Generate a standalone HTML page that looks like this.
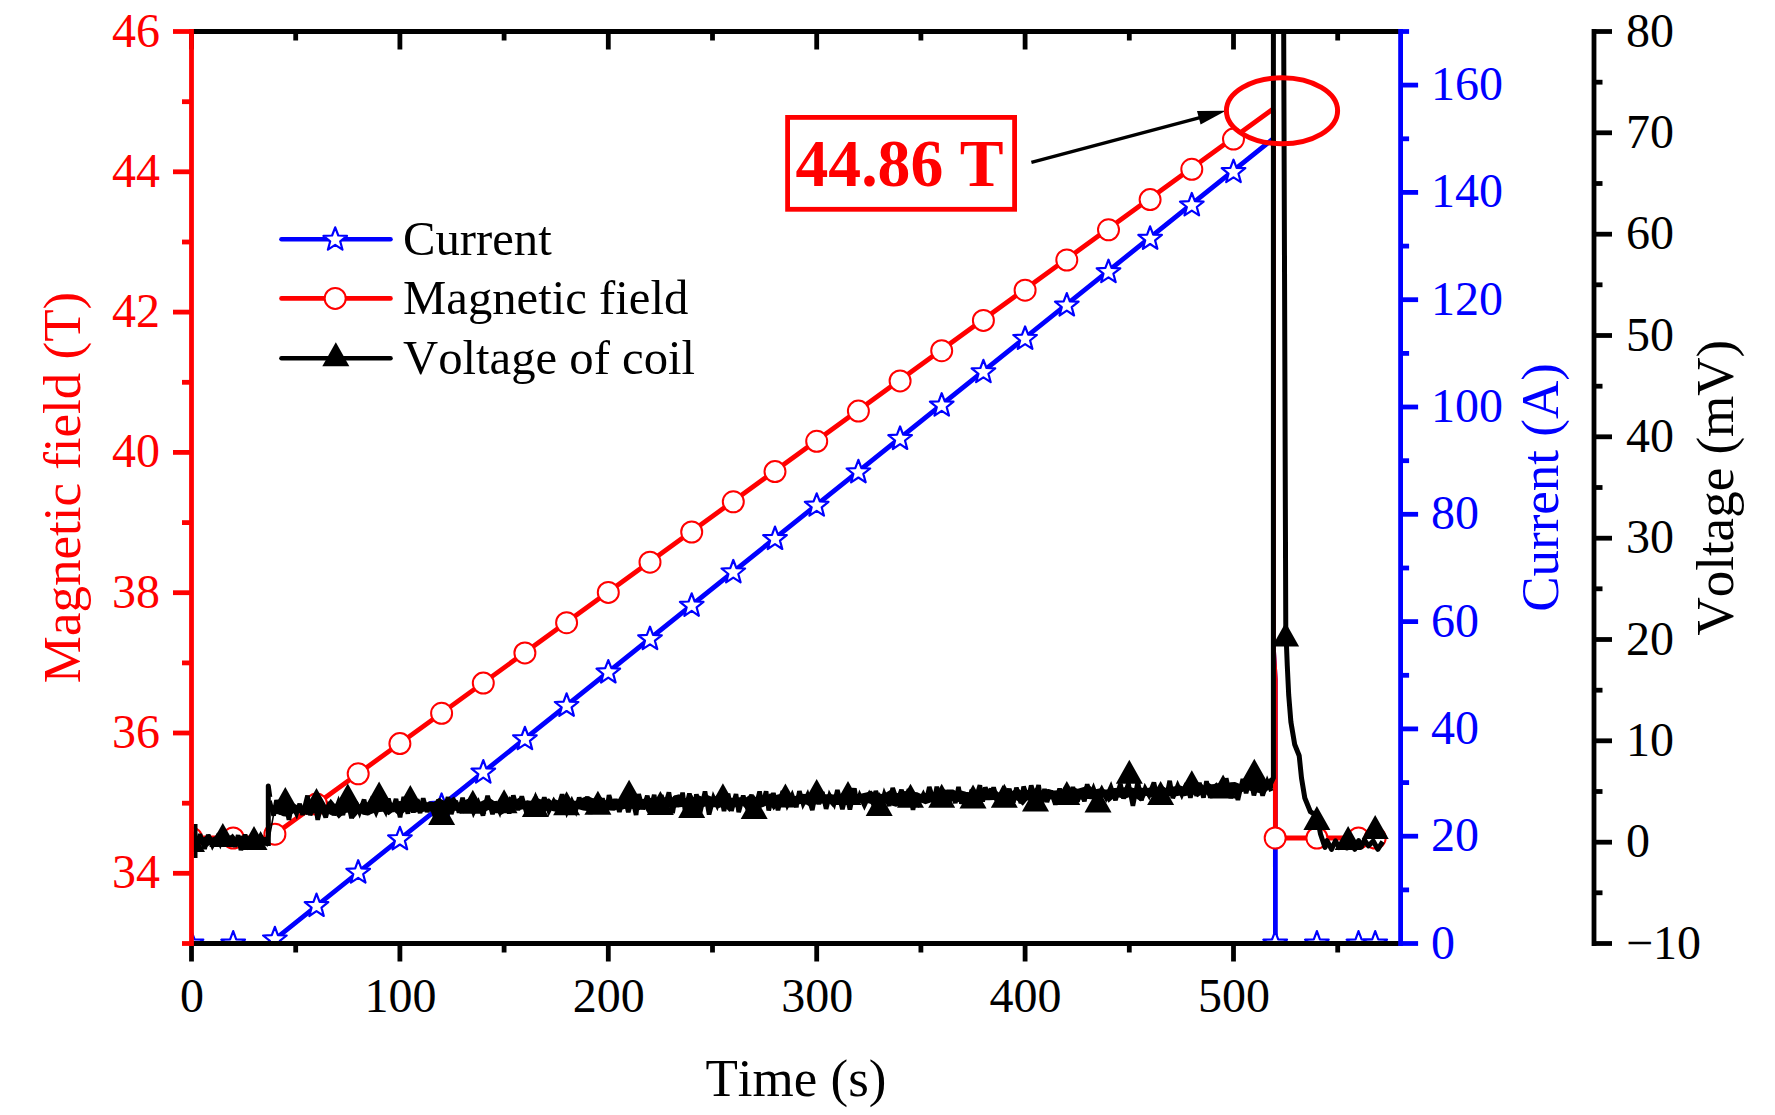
<!DOCTYPE html><html><head><meta charset="utf-8"><style>html,body{margin:0;padding:0;background:#fff;width:1775px;height:1115px;overflow:hidden} text{font-kerning:none}</style></head><body><svg width="1775" height="1115" viewBox="0 0 1775 1115" style="position:absolute;left:0;top:0">
<defs><clipPath id="pc"><rect x="191.5" y="31.5" width="1209.1" height="912.0"/></clipPath></defs>
<g clip-path="url(#pc)">
<polyline fill="none" stroke="#0000ff" stroke-width="4.8" stroke-linejoin="round" points="191.5,943.5 269.6,943.5 1272.0,139.7 1273.5,141.0 1273.5,650.0 1275.3,680.0 1275.4,943.5 1375.2,943.5"/>
<polyline fill="none" stroke="#ff0000" stroke-width="4.8" stroke-linejoin="round" points="191.5,838.0 269.6,838.0 1272.0,109.8 1273.5,111.0 1273.5,650.0 1275.3,680.0 1275.4,838.0 1375.2,838.0"/>
<polygon points="191.5,931.1 194.6,939.3 203.3,939.7 196.5,945.1 198.8,953.5 191.5,948.7 184.2,953.5 186.5,945.1 179.7,939.7 188.4,939.3" fill="#fff" stroke="#0000ff" stroke-width="2.2" stroke-linejoin="round"/>
<polygon points="233.2,931.1 236.2,939.3 245.0,939.7 238.1,945.1 240.5,953.5 233.2,948.7 225.9,953.5 228.2,945.1 221.4,939.7 230.1,939.3" fill="#fff" stroke="#0000ff" stroke-width="2.2" stroke-linejoin="round"/>
<polygon points="274.9,926.9 277.9,935.1 286.7,935.5 279.8,940.9 282.1,949.4 274.9,944.5 267.6,949.4 269.9,940.9 263.1,935.5 271.8,935.1" fill="#fff" stroke="#0000ff" stroke-width="2.2" stroke-linejoin="round"/>
<polygon points="316.5,893.6 319.6,901.8 328.3,902.1 321.5,907.6 323.8,916.0 316.5,911.2 309.3,916.0 311.6,907.6 304.7,902.1 313.5,901.8" fill="#fff" stroke="#0000ff" stroke-width="2.2" stroke-linejoin="round"/>
<polygon points="358.2,860.2 361.3,868.4 370.0,868.8 363.2,874.2 365.5,882.6 358.2,877.8 350.9,882.6 353.3,874.2 346.4,868.8 355.2,868.4" fill="#fff" stroke="#0000ff" stroke-width="2.2" stroke-linejoin="round"/>
<polygon points="399.9,826.9 403.0,835.0 411.7,835.4 404.9,840.9 407.2,849.3 399.9,844.5 392.6,849.3 394.9,840.9 388.1,835.4 396.8,835.0" fill="#fff" stroke="#0000ff" stroke-width="2.2" stroke-linejoin="round"/>
<polygon points="441.6,793.5 444.6,801.7 453.4,802.1 446.5,807.5 448.9,815.9 441.6,811.1 434.3,815.9 436.6,807.5 429.8,802.1 438.5,801.7" fill="#fff" stroke="#0000ff" stroke-width="2.2" stroke-linejoin="round"/>
<polygon points="483.3,760.1 486.3,768.3 495.1,768.7 488.2,774.1 490.5,782.6 483.3,777.7 476.0,782.6 478.3,774.1 471.5,768.7 480.2,768.3" fill="#fff" stroke="#0000ff" stroke-width="2.2" stroke-linejoin="round"/>
<polygon points="524.9,726.8 528.0,735.0 536.7,735.3 529.9,740.8 532.2,749.2 524.9,744.4 517.7,749.2 520.0,740.8 513.1,735.3 521.9,735.0" fill="#fff" stroke="#0000ff" stroke-width="2.2" stroke-linejoin="round"/>
<polygon points="566.6,693.4 569.7,701.6 578.4,702.0 571.6,707.4 573.9,715.8 566.6,711.0 559.3,715.8 561.7,707.4 554.8,702.0 563.6,701.6" fill="#fff" stroke="#0000ff" stroke-width="2.2" stroke-linejoin="round"/>
<polygon points="608.3,660.1 611.4,668.2 620.1,668.6 613.3,674.1 615.6,682.5 608.3,677.7 601.0,682.5 603.3,674.1 596.5,668.6 605.2,668.2" fill="#fff" stroke="#0000ff" stroke-width="2.2" stroke-linejoin="round"/>
<polygon points="650.0,626.7 653.0,634.9 661.8,635.3 654.9,640.7 657.3,649.1 650.0,644.3 642.7,649.1 645.0,640.7 638.2,635.3 646.9,634.9" fill="#fff" stroke="#0000ff" stroke-width="2.2" stroke-linejoin="round"/>
<polygon points="691.7,593.3 694.7,601.5 703.5,601.9 696.6,607.3 698.9,615.8 691.7,610.9 684.4,615.8 686.7,607.3 679.9,601.9 688.6,601.5" fill="#fff" stroke="#0000ff" stroke-width="2.2" stroke-linejoin="round"/>
<polygon points="733.3,560.0 736.4,568.2 745.1,568.5 738.3,574.0 740.6,582.4 733.3,577.6 726.1,582.4 728.4,574.0 721.5,568.5 730.3,568.2" fill="#fff" stroke="#0000ff" stroke-width="2.2" stroke-linejoin="round"/>
<polygon points="775.0,526.6 778.1,534.8 786.8,535.2 780.0,540.6 782.3,549.0 775.0,544.2 767.7,549.0 770.1,540.6 763.2,535.2 772.0,534.8" fill="#fff" stroke="#0000ff" stroke-width="2.2" stroke-linejoin="round"/>
<polygon points="816.7,493.3 819.8,501.4 828.5,501.8 821.7,507.3 824.0,515.7 816.7,510.9 809.4,515.7 811.7,507.3 804.9,501.8 813.6,501.4" fill="#fff" stroke="#0000ff" stroke-width="2.2" stroke-linejoin="round"/>
<polygon points="858.4,459.9 861.4,468.1 870.2,468.5 863.3,473.9 865.7,482.3 858.4,477.5 851.1,482.3 853.4,473.9 846.6,468.5 855.3,468.1" fill="#fff" stroke="#0000ff" stroke-width="2.2" stroke-linejoin="round"/>
<polygon points="900.1,426.5 903.1,434.7 911.9,435.1 905.0,440.5 907.3,449.0 900.1,444.1 892.8,449.0 895.1,440.5 888.3,435.1 897.0,434.7" fill="#fff" stroke="#0000ff" stroke-width="2.2" stroke-linejoin="round"/>
<polygon points="941.7,393.2 944.8,401.4 953.5,401.7 946.7,407.2 949.0,415.6 941.7,410.8 934.5,415.6 936.8,407.2 929.9,401.7 938.7,401.4" fill="#fff" stroke="#0000ff" stroke-width="2.2" stroke-linejoin="round"/>
<polygon points="983.4,359.8 986.5,368.0 995.2,368.4 988.4,373.8 990.7,382.2 983.4,377.4 976.1,382.2 978.5,373.8 971.6,368.4 980.4,368.0" fill="#fff" stroke="#0000ff" stroke-width="2.2" stroke-linejoin="round"/>
<polygon points="1025.1,326.5 1028.2,334.6 1036.9,335.0 1030.1,340.5 1032.4,348.9 1025.1,344.1 1017.8,348.9 1020.1,340.5 1013.3,335.0 1022.0,334.6" fill="#fff" stroke="#0000ff" stroke-width="2.2" stroke-linejoin="round"/>
<polygon points="1066.8,293.1 1069.8,301.3 1078.6,301.7 1071.7,307.1 1074.1,315.5 1066.8,310.7 1059.5,315.5 1061.8,307.1 1055.0,301.7 1063.7,301.3" fill="#fff" stroke="#0000ff" stroke-width="2.2" stroke-linejoin="round"/>
<polygon points="1108.5,259.7 1111.5,267.9 1120.3,268.3 1113.4,273.7 1115.7,282.2 1108.5,277.3 1101.2,282.2 1103.5,273.7 1096.7,268.3 1105.4,267.9" fill="#fff" stroke="#0000ff" stroke-width="2.2" stroke-linejoin="round"/>
<polygon points="1150.1,226.4 1153.2,234.6 1161.9,234.9 1155.1,240.4 1157.4,248.8 1150.1,244.0 1142.9,248.8 1145.2,240.4 1138.3,234.9 1147.1,234.6" fill="#fff" stroke="#0000ff" stroke-width="2.2" stroke-linejoin="round"/>
<polygon points="1191.8,193.0 1194.9,201.2 1203.6,201.6 1196.8,207.0 1199.1,215.4 1191.8,210.6 1184.5,215.4 1186.9,207.0 1180.0,201.6 1188.8,201.2" fill="#fff" stroke="#0000ff" stroke-width="2.2" stroke-linejoin="round"/>
<polygon points="1233.5,159.7 1236.6,167.8 1245.3,168.2 1238.5,173.7 1240.8,182.1 1233.5,177.3 1226.2,182.1 1228.5,173.7 1221.7,168.2 1230.4,167.8" fill="#fff" stroke="#0000ff" stroke-width="2.2" stroke-linejoin="round"/>
<polygon points="1275.2,931.1 1278.2,939.3 1287.0,939.7 1280.1,945.1 1282.5,953.5 1275.2,948.7 1267.9,953.5 1270.2,945.1 1263.4,939.7 1272.1,939.3" fill="#fff" stroke="#0000ff" stroke-width="2.2" stroke-linejoin="round"/>
<polygon points="1316.9,931.1 1319.9,939.3 1328.7,939.7 1321.8,945.1 1324.1,953.5 1316.9,948.7 1309.6,953.5 1311.9,945.1 1305.1,939.7 1313.8,939.3" fill="#fff" stroke="#0000ff" stroke-width="2.2" stroke-linejoin="round"/>
<polygon points="1358.5,931.1 1361.6,939.3 1370.3,939.7 1363.5,945.1 1365.8,953.5 1358.5,948.7 1351.3,953.5 1353.6,945.1 1346.7,939.7 1355.5,939.3" fill="#fff" stroke="#0000ff" stroke-width="2.2" stroke-linejoin="round"/>
<polygon points="1375.2,931.1 1378.3,939.3 1387.0,939.7 1380.2,945.1 1382.5,953.5 1375.2,948.7 1367.9,953.5 1370.3,945.1 1363.4,939.7 1372.2,939.3" fill="#fff" stroke="#0000ff" stroke-width="2.2" stroke-linejoin="round"/>
<circle cx="191.5" cy="838.0" r="10.5" fill="#fff" stroke="#ff0000" stroke-width="2.0"/>
<circle cx="233.2" cy="838.0" r="10.5" fill="#fff" stroke="#ff0000" stroke-width="2.0"/>
<circle cx="274.9" cy="834.2" r="10.5" fill="#fff" stroke="#ff0000" stroke-width="2.0"/>
<circle cx="316.5" cy="804.0" r="10.5" fill="#fff" stroke="#ff0000" stroke-width="2.0"/>
<circle cx="358.2" cy="773.8" r="10.5" fill="#fff" stroke="#ff0000" stroke-width="2.0"/>
<circle cx="399.9" cy="743.6" r="10.5" fill="#fff" stroke="#ff0000" stroke-width="2.0"/>
<circle cx="441.6" cy="713.3" r="10.5" fill="#fff" stroke="#ff0000" stroke-width="2.0"/>
<circle cx="483.3" cy="683.1" r="10.5" fill="#fff" stroke="#ff0000" stroke-width="2.0"/>
<circle cx="524.9" cy="652.9" r="10.5" fill="#fff" stroke="#ff0000" stroke-width="2.0"/>
<circle cx="566.6" cy="622.7" r="10.5" fill="#fff" stroke="#ff0000" stroke-width="2.0"/>
<circle cx="608.3" cy="592.4" r="10.5" fill="#fff" stroke="#ff0000" stroke-width="2.0"/>
<circle cx="650.0" cy="562.2" r="10.5" fill="#fff" stroke="#ff0000" stroke-width="2.0"/>
<circle cx="691.7" cy="532.0" r="10.5" fill="#fff" stroke="#ff0000" stroke-width="2.0"/>
<circle cx="733.3" cy="501.8" r="10.5" fill="#fff" stroke="#ff0000" stroke-width="2.0"/>
<circle cx="775.0" cy="471.6" r="10.5" fill="#fff" stroke="#ff0000" stroke-width="2.0"/>
<circle cx="816.7" cy="441.3" r="10.5" fill="#fff" stroke="#ff0000" stroke-width="2.0"/>
<circle cx="858.4" cy="411.1" r="10.5" fill="#fff" stroke="#ff0000" stroke-width="2.0"/>
<circle cx="900.1" cy="380.9" r="10.5" fill="#fff" stroke="#ff0000" stroke-width="2.0"/>
<circle cx="941.7" cy="350.7" r="10.5" fill="#fff" stroke="#ff0000" stroke-width="2.0"/>
<circle cx="983.4" cy="320.4" r="10.5" fill="#fff" stroke="#ff0000" stroke-width="2.0"/>
<circle cx="1025.1" cy="290.2" r="10.5" fill="#fff" stroke="#ff0000" stroke-width="2.0"/>
<circle cx="1066.8" cy="260.0" r="10.5" fill="#fff" stroke="#ff0000" stroke-width="2.0"/>
<circle cx="1108.5" cy="229.8" r="10.5" fill="#fff" stroke="#ff0000" stroke-width="2.0"/>
<circle cx="1150.1" cy="199.6" r="10.5" fill="#fff" stroke="#ff0000" stroke-width="2.0"/>
<circle cx="1191.8" cy="169.3" r="10.5" fill="#fff" stroke="#ff0000" stroke-width="2.0"/>
<circle cx="1233.5" cy="139.1" r="10.5" fill="#fff" stroke="#ff0000" stroke-width="2.0"/>
<circle cx="1275.2" cy="838.0" r="10.5" fill="#fff" stroke="#ff0000" stroke-width="2.0"/>
<circle cx="1316.9" cy="838.0" r="10.5" fill="#fff" stroke="#ff0000" stroke-width="2.0"/>
<circle cx="1358.5" cy="838.0" r="10.5" fill="#fff" stroke="#ff0000" stroke-width="2.0"/>
<circle cx="1375.2" cy="838.0" r="10.5" fill="#fff" stroke="#ff0000" stroke-width="2.0"/>
<polygon fill="#000" points="192.5,837.7 197.1,837.9 201.4,837.8 204.8,836.7 209.0,833.9 212.4,837.4 217.1,835.3 220.3,836.6 225.1,837.4 228.8,836.9 232.7,833.6 236.1,837.9 240.9,835.4 245.6,836.3 250.6,836.6 256.1,837.2 260.4,837.8 263.8,837.2 268.0,836.2 268.0,846.7 263.8,845.2 260.4,844.5 256.1,845.0 250.6,847.0 245.6,848.4 240.9,846.2 236.1,846.5 232.7,844.5 228.8,846.5 225.1,846.4 220.3,843.6 217.1,843.1 212.4,845.4 209.0,845.6 204.8,848.7 201.4,844.7 197.1,843.1 192.5,845.1"/><polygon fill="#000" points="268.6,836.2 274.5,806.0 278.9,805.8 283.0,804.3 287.9,804.0 293.5,803.3 298.4,805.8 302.4,805.9 306.5,804.1 310.3,805.0 316.3,804.7 320.3,803.9 326.1,805.2 330.7,798.8 334.8,803.8 338.8,803.6 344.2,801.7 348.3,805.0 353.4,799.6 359.2,804.4 362.9,801.0 367.8,802.5 373.2,801.7 377.2,800.6 383.0,802.1 388.7,802.0 393.7,803.1 399.6,801.1 405.2,801.6 408.9,803.5 414.7,802.9 418.9,798.3 422.0,803.4 425.5,802.2 430.1,802.0 433.8,802.0 439.1,798.1 443.6,800.4 449.4,799.5 454.1,796.6 458.4,802.6 463.8,800.7 467.2,799.0 471.4,800.9 475.7,802.1 480.9,801.6 484.9,799.6 490.2,798.2 495.6,802.1 501.0,802.0 506.1,802.1 509.4,796.3 514.9,800.3 519.6,797.2 523.3,801.6 527.2,800.3 530.8,801.7 536.0,801.3 539.3,798.8 543.5,800.2 549.0,798.2 552.1,801.2 555.6,799.6 559.5,800.7 563.8,799.3 567.5,796.2 571.7,800.0 574.7,800.8 577.8,800.5 583.0,797.4 587.0,796.3 590.1,796.9 595.6,799.6 601.0,797.3 606.1,800.4 609.4,797.2 614.4,800.3 618.9,798.9 622.7,799.6 627.9,794.5 632.9,796.7 636.4,798.4 639.4,799.3 644.5,798.7 647.8,797.3 650.9,798.0 654.7,797.6 658.1,797.6 662.6,796.0 667.1,799.3 671.0,798.6 674.0,795.5 679.1,794.2 685.1,798.3 688.3,797.3 692.0,797.8 697.9,795.1 703.7,797.2 708.1,795.3 713.8,797.5 719.1,793.6 723.7,797.9 729.4,797.7 733.8,797.7 737.1,797.5 742.3,797.0 746.3,797.2 750.8,794.0 754.6,796.7 760.2,797.4 764.6,797.4 770.1,793.3 773.6,795.8 778.5,794.2 783.9,795.1 787.2,795.6 790.5,795.7 795.3,796.1 800.2,793.7 806.1,793.9 811.1,795.9 814.8,795.6 818.4,792.8 824.3,794.5 829.6,794.1 833.2,794.6 837.4,793.9 840.6,794.0 846.6,790.7 851.8,794.2 855.8,795.4 861.7,793.4 867.1,792.3 871.3,790.5 874.4,793.4 877.5,793.1 883.2,794.3 886.9,792.1 892.2,788.8 895.9,792.7 899.7,793.5 905.1,790.7 909.1,793.6 912.6,791.7 917.3,792.2 921.1,793.9 925.4,793.1 930.7,790.5 934.6,793.0 938.3,793.4 942.3,791.6 947.7,789.5 953.2,789.5 956.5,791.3 960.6,790.3 966.5,791.9 970.6,792.6 975.5,792.9 979.1,792.4 982.3,792.0 985.6,791.3 989.5,787.7 993.7,788.5 998.9,792.4 1004.4,790.5 1007.4,790.9 1012.3,791.1 1016.9,787.7 1022.8,791.6 1027.2,789.9 1032.1,789.4 1036.3,787.9 1040.5,790.7 1045.7,789.3 1048.8,789.1 1053.6,790.4 1058.6,790.2 1063.1,789.5 1066.6,790.7 1069.9,789.9 1073.2,787.3 1077.7,788.8 1083.7,787.0 1088.1,783.7 1093.9,789.6 1099.6,788.5 1105.4,789.4 1108.5,789.5 1114.2,788.0 1119.1,787.7 1124.7,787.2 1130.1,787.1 1135.4,788.5 1140.9,787.4 1145.9,788.5 1150.7,787.3 1154.4,786.2 1157.7,787.6 1161.3,785.0 1165.1,787.7 1170.4,787.1 1175.1,786.2 1180.3,785.5 1184.5,787.1 1189.2,782.6 1193.7,783.2 1197.6,785.0 1200.6,783.1 1205.0,786.3 1209.0,783.0 1212.8,785.3 1216.6,782.2 1219.6,785.5 1224.8,784.0 1230.6,782.2 1235.0,781.9 1240.1,784.0 1243.4,779.8 1249.2,783.2 1254.2,779.5 1259.0,780.6 1262.2,778.0 1265.8,781.3 1270.7,777.5 1273.0,778.1 1273.0,788.4 1270.7,788.0 1265.8,792.0 1262.2,793.2 1259.0,793.1 1254.2,792.0 1249.2,790.6 1243.4,791.5 1240.1,792.9 1235.0,795.2 1230.6,796.6 1224.8,793.3 1219.6,796.9 1216.6,794.8 1212.8,796.3 1209.0,796.8 1205.0,793.6 1200.6,795.1 1197.6,797.2 1193.7,794.5 1189.2,795.2 1184.5,796.2 1180.3,795.4 1175.1,796.4 1170.4,796.0 1165.1,798.6 1161.3,796.8 1157.7,796.3 1154.4,795.9 1150.7,797.6 1145.9,795.8 1140.9,801.4 1135.4,798.0 1130.1,796.8 1124.7,799.0 1119.1,797.6 1114.2,797.7 1108.5,802.8 1105.4,797.5 1099.6,798.1 1093.9,799.6 1088.1,799.1 1083.7,799.5 1077.7,799.4 1073.2,797.9 1069.9,799.2 1066.6,798.8 1063.1,800.9 1058.6,799.4 1053.6,799.1 1048.8,799.4 1045.7,799.9 1040.5,799.0 1036.3,799.0 1032.1,801.1 1027.2,800.6 1022.8,805.8 1016.9,800.6 1012.3,799.7 1007.4,803.5 1004.4,799.6 998.9,804.7 993.7,799.9 989.5,800.3 985.6,800.2 982.3,801.0 979.1,802.9 975.5,801.2 970.6,801.2 966.5,802.5 960.6,801.8 956.5,802.2 953.2,801.0 947.7,801.4 942.3,801.1 938.3,803.8 934.6,803.2 930.7,802.5 925.4,804.3 921.1,802.5 917.3,805.1 912.6,801.3 909.1,803.5 905.1,804.6 899.7,806.1 895.9,806.7 892.2,805.7 886.9,801.8 883.2,807.7 877.5,803.5 874.4,804.1 871.3,803.9 867.1,803.1 861.7,803.0 855.8,803.1 851.8,803.3 846.6,804.5 840.6,806.2 837.4,802.9 833.2,807.4 829.6,803.4 824.3,803.6 818.4,803.7 814.8,804.7 811.1,807.2 806.1,804.5 800.2,804.1 795.3,805.7 790.5,804.3 787.2,806.1 783.9,806.6 778.5,804.2 773.6,810.4 770.1,804.5 764.6,806.2 760.2,808.3 754.6,811.1 750.8,805.2 746.3,809.2 742.3,805.6 737.1,806.8 733.8,805.7 729.4,812.1 723.7,805.7 719.1,808.0 713.8,806.1 708.1,805.7 703.7,807.1 697.9,809.6 692.0,806.6 688.3,807.8 685.1,806.5 679.1,806.9 674.0,808.0 671.0,807.9 667.1,807.2 662.6,808.2 658.1,808.1 654.7,807.7 650.9,812.0 647.8,813.5 644.5,807.7 639.4,810.2 636.4,808.0 632.9,809.1 627.9,808.0 622.7,809.5 618.9,808.7 614.4,810.8 609.4,810.6 606.1,808.1 601.0,810.9 595.6,809.3 590.1,811.2 587.0,811.0 583.0,810.6 577.8,809.0 574.7,808.1 571.7,809.0 567.5,808.1 563.8,813.8 559.5,808.6 555.6,811.7 552.1,810.9 549.0,809.1 543.5,813.6 539.3,810.3 536.0,810.5 530.8,808.8 527.2,809.8 523.3,809.3 519.6,810.0 514.9,809.7 509.4,811.3 506.1,812.1 501.0,815.0 495.6,811.2 490.2,809.6 484.9,811.6 480.9,809.7 475.7,810.4 471.4,812.2 467.2,811.8 463.8,813.3 458.4,811.4 454.1,810.4 449.4,815.0 443.6,811.3 439.1,813.4 433.8,811.6 430.1,811.7 425.5,811.3 422.0,812.3 418.9,811.8 414.7,812.7 408.9,811.2 405.2,811.6 399.6,816.4 393.7,811.3 388.7,815.3 383.0,811.7 377.2,812.3 373.2,813.2 367.8,815.5 362.9,814.8 359.2,812.3 353.4,818.9 348.3,812.6 344.2,813.2 338.8,818.8 334.8,813.9 330.7,814.9 326.1,812.5 320.3,812.6 316.3,812.8 310.3,814.4 306.5,815.1 302.4,813.1 298.4,813.3 293.5,813.3 287.9,816.7 283.0,816.3 278.9,814.2 274.5,813.9 268.6,845.8"/><polyline fill="none" stroke="#000" stroke-width="4.6" stroke-linejoin="miter" stroke-miterlimit="3" points="193.5,837.4 196.7,846.0 200.0,834.1 204.6,848.9 208.2,834.8 212.5,845.4 217.1,837.2 220.1,843.5 224.5,830.6 228.2,846.3 231.9,836.3 235.1,846.8 238.1,835.1 240.9,850.1 245.1,834.7 248.5,844.9 253.3,837.2 255.8,844.2 260.6,835.7 265.3,844.3"/><polyline fill="none" stroke="#000" stroke-width="4.6" stroke-linejoin="miter" stroke-miterlimit="3" points="269.5,800.9 273.6,815.7 276.5,800.1 280.9,814.1 285.3,802.1 288.9,819.7 291.9,804.2 296.5,813.7 299.7,803.8 302.6,815.0 307.5,795.6 310.2,815.3 314.7,800.3 317.7,819.8 321.2,805.8 325.7,817.5 329.8,802.2 333.8,815.1 338.5,802.3 342.9,815.0 347.2,798.5 351.5,818.3 355.6,801.8 359.6,812.1 364.1,799.6 367.2,814.6 371.3,801.9 376.1,812.5 380.5,801.9 385.5,811.2 388.4,798.6 392.2,811.6 396.0,799.0 400.1,817.3 403.7,797.0 407.9,813.6 410.7,796.6 413.3,812.6 415.8,801.0 420.1,813.1 423.2,798.3 427.0,811.9 430.5,802.4 434.9,816.5 438.6,799.4 443.5,812.7 448.0,797.2 451.3,814.1 455.8,800.8 459.0,812.6 462.6,797.8 465.8,811.4 469.5,799.9 473.6,812.2 478.3,802.8 483.0,815.4 487.6,795.9 492.5,814.2 495.2,801.8 499.7,811.6 504.4,796.4 509.2,813.5 513.3,795.4 517.9,810.1 521.8,796.5 526.5,812.8 529.6,801.2 532.2,812.0 535.9,798.2 540.6,808.1 544.3,797.5 548.9,810.9 553.8,801.3 557.9,808.0 562.1,794.3 567.0,811.7 571.8,801.3 575.8,810.2 579.2,797.6 583.7,809.0 587.2,796.8 590.4,813.8 594.2,799.0 599.1,812.3 602.5,798.4 606.4,812.0 609.0,795.1 612.9,807.2 615.4,799.2 619.4,811.9 624.2,795.7 628.3,812.1 632.5,798.7 636.1,815.0 638.7,794.1 642.9,809.2 647.3,795.7 650.6,809.5 654.2,794.9 656.8,812.9 661.3,795.3 664.9,806.0 668.9,792.3 672.6,813.0 675.6,796.4 679.8,806.6 682.6,792.6 685.1,811.2 689.4,793.6 693.7,812.2 696.4,794.3 700.1,812.7 705.0,791.4 709.1,814.5 713.5,797.7 717.2,805.4 721.1,795.3 724.0,811.1 728.1,793.6 731.5,810.9 736.0,794.0 738.7,812.2 743.2,795.7 748.2,810.9 751.4,794.7 754.9,809.6 759.6,791.5 762.1,806.0 766.1,791.3 768.7,810.5 773.4,793.1 778.0,810.1 782.8,791.1 787.3,805.0 792.1,795.4 796.3,806.9 799.4,791.1 803.1,803.8 807.5,795.1 812.3,810.0 815.9,792.1 818.9,804.2 822.3,792.1 826.1,808.8 829.6,795.7 834.0,803.7 837.4,790.1 842.4,809.2 846.3,794.1 849.9,809.6 854.4,788.3 857.0,803.5 859.7,795.5 864.4,805.4 869.2,795.1 872.6,802.5 875.8,791.0 880.7,806.8 884.3,794.1 889.3,805.8 892.7,787.9 897.3,801.4 901.5,789.8 904.2,802.1 909.0,789.4 913.0,809.8 916.1,793.7 919.1,802.5 923.3,794.4 926.2,800.7 929.3,786.9 934.0,801.4 936.8,786.8 940.8,803.7 945.4,790.2 948.2,805.9 952.1,792.7 955.3,803.1 958.5,787.0 961.4,803.6 966.1,792.7 968.8,806.7 971.8,789.7 975.0,801.0 979.9,785.3 982.7,801.6 985.3,787.4 990.3,799.2 993.6,787.4 997.4,800.4 1002.2,791.1 1005.1,800.2 1009.3,788.8 1013.4,802.5 1016.4,787.6 1020.9,803.1 1023.6,786.5 1027.9,798.7 1031.2,785.5 1035.0,798.2 1038.6,785.1 1041.6,804.6 1044.5,788.9 1047.0,802.0 1050.8,790.8 1055.4,804.6 1059.6,788.5 1062.3,804.5 1066.0,787.4 1069.9,797.5 1072.9,787.1 1077.5,801.6 1080.5,791.0 1084.4,801.3 1087.2,784.1 1089.8,797.9 1093.5,788.6 1097.0,797.8 1101.7,789.3 1106.1,797.7 1110.9,787.1 1115.5,800.2 1120.4,783.7 1123.5,798.5 1128.4,783.2 1132.9,805.8 1137.8,781.8 1141.4,800.2 1145.2,788.5 1149.0,795.1 1153.9,782.5 1158.0,801.1 1162.7,788.2 1165.9,799.7 1169.7,780.8 1172.8,798.2 1177.7,785.6 1181.8,794.7 1186.7,783.5 1190.4,797.7 1193.2,786.3 1196.7,795.6 1199.4,782.8 1203.5,797.6 1206.5,781.2 1210.3,797.7 1213.6,784.7 1217.4,795.6 1219.9,783.6 1223.0,796.8 1226.2,778.3 1230.7,798.0 1234.3,785.4 1237.9,800.0 1242.8,778.9 1246.1,793.2 1250.2,777.1 1253.9,795.3 1258.3,779.1 1262.6,795.6 1267.3,781.7 1271.3,791.2"/><polyline fill="none" stroke="#000" stroke-width="5" stroke-linejoin="round" points="268.3,846 268.3,786 269.8,797"/><polyline fill="none" stroke="#000" stroke-width="4" points="195.5,824 195.5,858"/>
<polyline fill="none" stroke="#000000" stroke-width="5" stroke-linejoin="round" points="1270.5,784.0 1273.4,778.0 1273.4,-50.0 1283.4,-50.0 1285.8,634.0 1286.4,643.6 1287.3,666.0 1288.7,695.0 1290.9,722.0 1294.7,744.5 1299.2,755.7 1301.5,778.0 1304.8,798.0 1310.4,811.7 1317.0,816.0 1320.5,834.0 1325.0,847.5 1327.0,840.6 1331.5,849.4 1335.5,840.8 1339.1,847.6 1343.4,841.2 1346.9,848.0 1350.4,841.1 1354.8,849.3 1358.6,840.5 1361.5,846.9 1364.4,839.9 1368.4,845.9 1373.2,841.0 1377.8,849.3 1382.7,841.6"/>
<polygon points="222.8,823.0 236.3,847.0 209.3,847.0" fill="#000000"/>
<polygon points="254.0,826.0 267.5,850.0 240.5,850.0" fill="#000000"/>
<polygon points="285.3,787.0 298.8,811.0 271.8,811.0" fill="#000000"/>
<polygon points="316.5,788.0 330.0,812.0 303.0,812.0" fill="#000000"/>
<polygon points="347.8,783.6 361.3,807.6 334.3,807.6" fill="#000000"/>
<polygon points="379.1,781.6 392.6,805.6 365.6,805.6" fill="#000000"/>
<polygon points="410.3,785.0 423.8,809.0 396.8,809.0" fill="#000000"/>
<polygon points="441.6,801.0 455.1,825.0 428.1,825.0" fill="#000000"/>
<polygon points="472.8,789.7 486.3,813.7 459.3,813.7" fill="#000000"/>
<polygon points="504.1,789.3 517.6,813.3 490.6,813.3" fill="#000000"/>
<polygon points="535.4,793.0 548.9,817.0 521.9,817.0" fill="#000000"/>
<polygon points="566.6,791.3 580.1,815.3 553.1,815.3" fill="#000000"/>
<polygon points="597.9,790.7 611.4,814.7 584.4,814.7" fill="#000000"/>
<polygon points="629.1,779.7 642.6,803.7 615.6,803.7" fill="#000000"/>
<polygon points="660.4,790.9 673.9,814.9 646.9,814.9" fill="#000000"/>
<polygon points="691.7,794.0 705.2,818.0 678.2,818.0" fill="#000000"/>
<polygon points="722.9,783.2 736.4,807.2 709.4,807.2" fill="#000000"/>
<polygon points="754.2,795.0 767.7,819.0 740.7,819.0" fill="#000000"/>
<polygon points="785.4,783.6 798.9,807.6 771.9,807.6" fill="#000000"/>
<polygon points="816.7,779.0 830.2,803.0 803.2,803.0" fill="#000000"/>
<polygon points="848.0,781.0 861.5,805.0 834.5,805.0" fill="#000000"/>
<polygon points="879.2,792.0 892.7,816.0 865.7,816.0" fill="#000000"/>
<polygon points="910.5,783.7 924.0,807.7 897.0,807.7" fill="#000000"/>
<polygon points="941.7,783.7 955.2,807.7 928.2,807.7" fill="#000000"/>
<polygon points="973.0,784.5 986.5,808.5 959.5,808.5" fill="#000000"/>
<polygon points="1004.3,783.7 1017.8,807.7 990.8,807.7" fill="#000000"/>
<polygon points="1035.5,787.4 1049.0,811.4 1022.0,811.4" fill="#000000"/>
<polygon points="1066.8,780.9 1080.3,804.9 1053.3,804.9" fill="#000000"/>
<polygon points="1098.0,788.6 1111.5,812.6 1084.5,812.6" fill="#000000"/>
<polygon points="1129.3,759.8 1142.8,783.8 1115.8,783.8" fill="#000000"/>
<polygon points="1160.6,780.9 1174.1,804.9 1147.1,804.9" fill="#000000"/>
<polygon points="1191.8,770.3 1205.3,794.3 1178.3,794.3" fill="#000000"/>
<polygon points="1223.1,774.5 1236.6,798.5 1209.6,798.5" fill="#000000"/>
<polygon points="1254.3,758.8 1267.8,782.8 1240.8,782.8" fill="#000000"/>
<polygon points="1285.6,622.5 1299.1,646.5 1272.1,646.5" fill="#000000"/>
<polygon points="1316.9,806.0 1330.4,830.0 1303.4,830.0" fill="#000000"/>
<polygon points="1348.1,826.0 1361.6,850.0 1334.6,850.0" fill="#000000"/>
<polygon points="1375.2,815.0 1388.7,839.0 1361.7,839.0" fill="#000000"/>
<polygon points="191.5,828.0 205.0,852.0 178.0,852.0" fill="#000000"/>
</g>
<line x1="189.0" y1="31.5" x2="1400.6" y2="31.5" stroke="#000000" stroke-width="4.8"/>
<line x1="189.0" y1="943.5" x2="1400.6" y2="943.5" stroke="#000000" stroke-width="4.8"/>
<line x1="191.5" y1="943.5" x2="191.5" y2="961.5" stroke="#000000" stroke-width="4.8"/>
<line x1="191.5" y1="31.5" x2="191.5" y2="49.5" stroke="#000000" stroke-width="4.8"/>
<line x1="295.7" y1="943.5" x2="295.7" y2="952.5" stroke="#000000" stroke-width="4.8"/>
<line x1="295.7" y1="31.5" x2="295.7" y2="40.5" stroke="#000000" stroke-width="4.8"/>
<line x1="399.9" y1="943.5" x2="399.9" y2="961.5" stroke="#000000" stroke-width="4.8"/>
<line x1="399.9" y1="31.5" x2="399.9" y2="49.5" stroke="#000000" stroke-width="4.8"/>
<line x1="504.1" y1="943.5" x2="504.1" y2="952.5" stroke="#000000" stroke-width="4.8"/>
<line x1="504.1" y1="31.5" x2="504.1" y2="40.5" stroke="#000000" stroke-width="4.8"/>
<line x1="608.3" y1="943.5" x2="608.3" y2="961.5" stroke="#000000" stroke-width="4.8"/>
<line x1="608.3" y1="31.5" x2="608.3" y2="49.5" stroke="#000000" stroke-width="4.8"/>
<line x1="712.5" y1="943.5" x2="712.5" y2="952.5" stroke="#000000" stroke-width="4.8"/>
<line x1="712.5" y1="31.5" x2="712.5" y2="40.5" stroke="#000000" stroke-width="4.8"/>
<line x1="816.7" y1="943.5" x2="816.7" y2="961.5" stroke="#000000" stroke-width="4.8"/>
<line x1="816.7" y1="31.5" x2="816.7" y2="49.5" stroke="#000000" stroke-width="4.8"/>
<line x1="920.9" y1="943.5" x2="920.9" y2="952.5" stroke="#000000" stroke-width="4.8"/>
<line x1="920.9" y1="31.5" x2="920.9" y2="40.5" stroke="#000000" stroke-width="4.8"/>
<line x1="1025.1" y1="943.5" x2="1025.1" y2="961.5" stroke="#000000" stroke-width="4.8"/>
<line x1="1025.1" y1="31.5" x2="1025.1" y2="49.5" stroke="#000000" stroke-width="4.8"/>
<line x1="1129.3" y1="943.5" x2="1129.3" y2="952.5" stroke="#000000" stroke-width="4.8"/>
<line x1="1129.3" y1="31.5" x2="1129.3" y2="40.5" stroke="#000000" stroke-width="4.8"/>
<line x1="1233.5" y1="943.5" x2="1233.5" y2="961.5" stroke="#000000" stroke-width="4.8"/>
<line x1="1233.5" y1="31.5" x2="1233.5" y2="49.5" stroke="#000000" stroke-width="4.8"/>
<line x1="1337.7" y1="943.5" x2="1337.7" y2="952.5" stroke="#000000" stroke-width="4.8"/>
<line x1="1337.7" y1="31.5" x2="1337.7" y2="40.5" stroke="#000000" stroke-width="4.8"/>
<line x1="191.5" y1="29.1" x2="191.5" y2="945.9" stroke="#ff0000" stroke-width="4.8"/>
<line x1="182.0" y1="943.5" x2="191.5" y2="943.5" stroke="#ff0000" stroke-width="4.8"/>
<line x1="173.0" y1="873.3" x2="191.5" y2="873.3" stroke="#ff0000" stroke-width="4.8"/>
<line x1="182.0" y1="803.2" x2="191.5" y2="803.2" stroke="#ff0000" stroke-width="4.8"/>
<line x1="173.0" y1="733.0" x2="191.5" y2="733.0" stroke="#ff0000" stroke-width="4.8"/>
<line x1="182.0" y1="662.9" x2="191.5" y2="662.9" stroke="#ff0000" stroke-width="4.8"/>
<line x1="173.0" y1="592.7" x2="191.5" y2="592.7" stroke="#ff0000" stroke-width="4.8"/>
<line x1="182.0" y1="522.6" x2="191.5" y2="522.6" stroke="#ff0000" stroke-width="4.8"/>
<line x1="173.0" y1="452.4" x2="191.5" y2="452.4" stroke="#ff0000" stroke-width="4.8"/>
<line x1="182.0" y1="382.3" x2="191.5" y2="382.3" stroke="#ff0000" stroke-width="4.8"/>
<line x1="173.0" y1="312.1" x2="191.5" y2="312.1" stroke="#ff0000" stroke-width="4.8"/>
<line x1="182.0" y1="242.0" x2="191.5" y2="242.0" stroke="#ff0000" stroke-width="4.8"/>
<line x1="173.0" y1="171.8" x2="191.5" y2="171.8" stroke="#ff0000" stroke-width="4.8"/>
<line x1="182.0" y1="101.7" x2="191.5" y2="101.7" stroke="#ff0000" stroke-width="4.8"/>
<line x1="173.0" y1="31.5" x2="191.5" y2="31.5" stroke="#ff0000" stroke-width="4.8"/>
<line x1="1400.6" y1="29.1" x2="1400.6" y2="945.9" stroke="#0000ff" stroke-width="4.8"/>
<line x1="1400.6" y1="943.5" x2="1418.1" y2="943.5" stroke="#0000ff" stroke-width="4.8"/>
<line x1="1400.6" y1="889.9" x2="1409.1" y2="889.9" stroke="#0000ff" stroke-width="4.8"/>
<line x1="1400.6" y1="836.2" x2="1418.1" y2="836.2" stroke="#0000ff" stroke-width="4.8"/>
<line x1="1400.6" y1="782.6" x2="1409.1" y2="782.6" stroke="#0000ff" stroke-width="4.8"/>
<line x1="1400.6" y1="728.9" x2="1418.1" y2="728.9" stroke="#0000ff" stroke-width="4.8"/>
<line x1="1400.6" y1="675.3" x2="1409.1" y2="675.3" stroke="#0000ff" stroke-width="4.8"/>
<line x1="1400.6" y1="621.6" x2="1418.1" y2="621.6" stroke="#0000ff" stroke-width="4.8"/>
<line x1="1400.6" y1="568.0" x2="1409.1" y2="568.0" stroke="#0000ff" stroke-width="4.8"/>
<line x1="1400.6" y1="514.3" x2="1418.1" y2="514.3" stroke="#0000ff" stroke-width="4.8"/>
<line x1="1400.6" y1="460.7" x2="1409.1" y2="460.7" stroke="#0000ff" stroke-width="4.8"/>
<line x1="1400.6" y1="407.0" x2="1418.1" y2="407.0" stroke="#0000ff" stroke-width="4.8"/>
<line x1="1400.6" y1="353.4" x2="1409.1" y2="353.4" stroke="#0000ff" stroke-width="4.8"/>
<line x1="1400.6" y1="299.7" x2="1418.1" y2="299.7" stroke="#0000ff" stroke-width="4.8"/>
<line x1="1400.6" y1="246.1" x2="1409.1" y2="246.1" stroke="#0000ff" stroke-width="4.8"/>
<line x1="1400.6" y1="192.4" x2="1418.1" y2="192.4" stroke="#0000ff" stroke-width="4.8"/>
<line x1="1400.6" y1="138.8" x2="1409.1" y2="138.8" stroke="#0000ff" stroke-width="4.8"/>
<line x1="1400.6" y1="85.1" x2="1418.1" y2="85.1" stroke="#0000ff" stroke-width="4.8"/>
<line x1="1400.6" y1="31.5" x2="1409.1" y2="31.5" stroke="#0000ff" stroke-width="4.8"/>
<line x1="1594.0" y1="29.1" x2="1594.0" y2="945.9" stroke="#000000" stroke-width="4.8"/>
<line x1="1594.0" y1="943.5" x2="1612.0" y2="943.5" stroke="#000000" stroke-width="4.8"/>
<line x1="1594.0" y1="892.8" x2="1602.5" y2="892.8" stroke="#000000" stroke-width="4.8"/>
<line x1="1594.0" y1="842.2" x2="1612.0" y2="842.2" stroke="#000000" stroke-width="4.8"/>
<line x1="1594.0" y1="791.5" x2="1602.5" y2="791.5" stroke="#000000" stroke-width="4.8"/>
<line x1="1594.0" y1="740.8" x2="1612.0" y2="740.8" stroke="#000000" stroke-width="4.8"/>
<line x1="1594.0" y1="690.2" x2="1602.5" y2="690.2" stroke="#000000" stroke-width="4.8"/>
<line x1="1594.0" y1="639.5" x2="1612.0" y2="639.5" stroke="#000000" stroke-width="4.8"/>
<line x1="1594.0" y1="588.8" x2="1602.5" y2="588.8" stroke="#000000" stroke-width="4.8"/>
<line x1="1594.0" y1="538.2" x2="1612.0" y2="538.2" stroke="#000000" stroke-width="4.8"/>
<line x1="1594.0" y1="487.5" x2="1602.5" y2="487.5" stroke="#000000" stroke-width="4.8"/>
<line x1="1594.0" y1="436.8" x2="1612.0" y2="436.8" stroke="#000000" stroke-width="4.8"/>
<line x1="1594.0" y1="386.2" x2="1602.5" y2="386.2" stroke="#000000" stroke-width="4.8"/>
<line x1="1594.0" y1="335.5" x2="1612.0" y2="335.5" stroke="#000000" stroke-width="4.8"/>
<line x1="1594.0" y1="284.8" x2="1602.5" y2="284.8" stroke="#000000" stroke-width="4.8"/>
<line x1="1594.0" y1="234.2" x2="1612.0" y2="234.2" stroke="#000000" stroke-width="4.8"/>
<line x1="1594.0" y1="183.5" x2="1602.5" y2="183.5" stroke="#000000" stroke-width="4.8"/>
<line x1="1594.0" y1="132.8" x2="1612.0" y2="132.8" stroke="#000000" stroke-width="4.8"/>
<line x1="1594.0" y1="82.2" x2="1602.5" y2="82.2" stroke="#000000" stroke-width="4.8"/>
<line x1="1594.0" y1="31.5" x2="1612.0" y2="31.5" stroke="#000000" stroke-width="4.8"/>
<text x="160" y="888.3" text-anchor="end" font-family='"Liberation Serif", serif' font-size="48" fill="#ff0000">34</text>
<text x="160" y="748.0" text-anchor="end" font-family='"Liberation Serif", serif' font-size="48" fill="#ff0000">36</text>
<text x="160" y="607.7" text-anchor="end" font-family='"Liberation Serif", serif' font-size="48" fill="#ff0000">38</text>
<text x="160" y="467.4" text-anchor="end" font-family='"Liberation Serif", serif' font-size="48" fill="#ff0000">40</text>
<text x="160" y="327.1" text-anchor="end" font-family='"Liberation Serif", serif' font-size="48" fill="#ff0000">42</text>
<text x="160" y="186.8" text-anchor="end" font-family='"Liberation Serif", serif' font-size="48" fill="#ff0000">44</text>
<text x="160" y="46.5" text-anchor="end" font-family='"Liberation Serif", serif' font-size="48" fill="#ff0000">46</text>
<text x="192.0" y="1012" text-anchor="middle" font-family='"Liberation Serif", serif' font-size="48" fill="#000000">0</text>
<text x="400.4" y="1012" text-anchor="middle" font-family='"Liberation Serif", serif' font-size="48" fill="#000000">100</text>
<text x="608.8" y="1012" text-anchor="middle" font-family='"Liberation Serif", serif' font-size="48" fill="#000000">200</text>
<text x="817.2" y="1012" text-anchor="middle" font-family='"Liberation Serif", serif' font-size="48" fill="#000000">300</text>
<text x="1025.6" y="1012" text-anchor="middle" font-family='"Liberation Serif", serif' font-size="48" fill="#000000">400</text>
<text x="1234.0" y="1012" text-anchor="middle" font-family='"Liberation Serif", serif' font-size="48" fill="#000000">500</text>
<text x="1431" y="958.5" text-anchor="start" font-family='"Liberation Serif", serif' font-size="48" fill="#0000ff">0</text>
<text x="1431" y="851.2" text-anchor="start" font-family='"Liberation Serif", serif' font-size="48" fill="#0000ff">20</text>
<text x="1431" y="743.9" text-anchor="start" font-family='"Liberation Serif", serif' font-size="48" fill="#0000ff">40</text>
<text x="1431" y="636.6" text-anchor="start" font-family='"Liberation Serif", serif' font-size="48" fill="#0000ff">60</text>
<text x="1431" y="529.3" text-anchor="start" font-family='"Liberation Serif", serif' font-size="48" fill="#0000ff">80</text>
<text x="1431" y="422.0" text-anchor="start" font-family='"Liberation Serif", serif' font-size="48" fill="#0000ff">100</text>
<text x="1431" y="314.7" text-anchor="start" font-family='"Liberation Serif", serif' font-size="48" fill="#0000ff">120</text>
<text x="1431" y="207.4" text-anchor="start" font-family='"Liberation Serif", serif' font-size="48" fill="#0000ff">140</text>
<text x="1431" y="100.1" text-anchor="start" font-family='"Liberation Serif", serif' font-size="48" fill="#0000ff">160</text>
<text x="1626" y="958.5" text-anchor="start" font-family='"Liberation Serif", serif' font-size="48" fill="#000000">−10</text>
<text x="1626" y="857.2" text-anchor="start" font-family='"Liberation Serif", serif' font-size="48" fill="#000000">0</text>
<text x="1626" y="755.8" text-anchor="start" font-family='"Liberation Serif", serif' font-size="48" fill="#000000">10</text>
<text x="1626" y="654.5" text-anchor="start" font-family='"Liberation Serif", serif' font-size="48" fill="#000000">20</text>
<text x="1626" y="553.2" text-anchor="start" font-family='"Liberation Serif", serif' font-size="48" fill="#000000">30</text>
<text x="1626" y="451.8" text-anchor="start" font-family='"Liberation Serif", serif' font-size="48" fill="#000000">40</text>
<text x="1626" y="350.5" text-anchor="start" font-family='"Liberation Serif", serif' font-size="48" fill="#000000">50</text>
<text x="1626" y="249.2" text-anchor="start" font-family='"Liberation Serif", serif' font-size="48" fill="#000000">60</text>
<text x="1626" y="147.8" text-anchor="start" font-family='"Liberation Serif", serif' font-size="48" fill="#000000">70</text>
<text x="1626" y="46.5" text-anchor="start" font-family='"Liberation Serif", serif' font-size="48" fill="#000000">80</text>
<text x="796" y="1096" text-anchor="middle" font-family='"Liberation Serif", serif' font-size="53" fill="#000000">Time (s)</text>
<text transform="translate(80,487.5) rotate(-90)" x="0" y="0" text-anchor="middle" font-family='"Liberation Serif", serif' font-size="53" fill="#ff0000">Magnetic field (T)</text>
<text transform="translate(1558,487.5) rotate(-90)" x="0" y="0" text-anchor="middle" font-family='"Liberation Serif", serif' font-size="53" fill="#0000ff">Current (A)</text>
<text transform="translate(1733.2,487.7) rotate(-90)" x="0" y="0" text-anchor="middle" font-family='"Liberation Serif", serif' font-size="53" fill="#000000">Voltage (mV)</text>
<line x1="281.5" y1="239.2" x2="390.5" y2="239.2" stroke="#0000ff" stroke-width="4.6" stroke-linecap="round"/>
<text x="403" y="255.2" font-family='"Liberation Serif", serif' font-size="48.7" fill="#000000">Current</text>
<line x1="281.5" y1="298.4" x2="390.5" y2="298.4" stroke="#ff0000" stroke-width="4.6" stroke-linecap="round"/>
<text x="403" y="314.4" font-family='"Liberation Serif", serif' font-size="48.7" fill="#000000">Magnetic field</text>
<line x1="281.5" y1="358.2" x2="390.5" y2="358.2" stroke="#000000" stroke-width="4.6" stroke-linecap="round"/>
<text x="403" y="374.2" font-family='"Liberation Serif", serif' font-size="48.7" fill="#000000">Voltage of coil</text>
<polygon points="335.2,227.3 338.3,235.5 347.0,235.9 340.2,241.3 342.5,249.7 335.2,244.9 327.9,249.7 330.2,241.3 323.4,235.9 332.1,235.5" fill="#fff" stroke="#0000ff" stroke-width="2.2" stroke-linejoin="round"/>
<circle cx="335.2" cy="298.4" r="10.5" fill="#fff" stroke="#ff0000" stroke-width="2.0"/>
<polygon points="335.8,342.2 349.3,366.2 322.3,366.2" fill="#000000"/>
<rect x="787.6" y="117.4" width="227" height="91.9" fill="#fff" stroke="#ff0000" stroke-width="4.8"/>
<text transform="translate(795.5,186.4) scale(0.995,1.035)" x="0" y="0" font-family='"Liberation Serif", serif' font-size="66" font-weight="bold" fill="#ff0000">44.86 T</text>
<line x1="1031.4" y1="162.3" x2="1202.7" y2="116.9" stroke="#000000" stroke-width="3.4"/>
<polygon points="1225.9,110.7 1200.6,124.6 1197.0,111.1" fill="#000000"/>
<ellipse cx="1282" cy="110.7" rx="55.6" ry="33" fill="none" stroke="#ff0000" stroke-width="5"/>
</svg></body></html>
